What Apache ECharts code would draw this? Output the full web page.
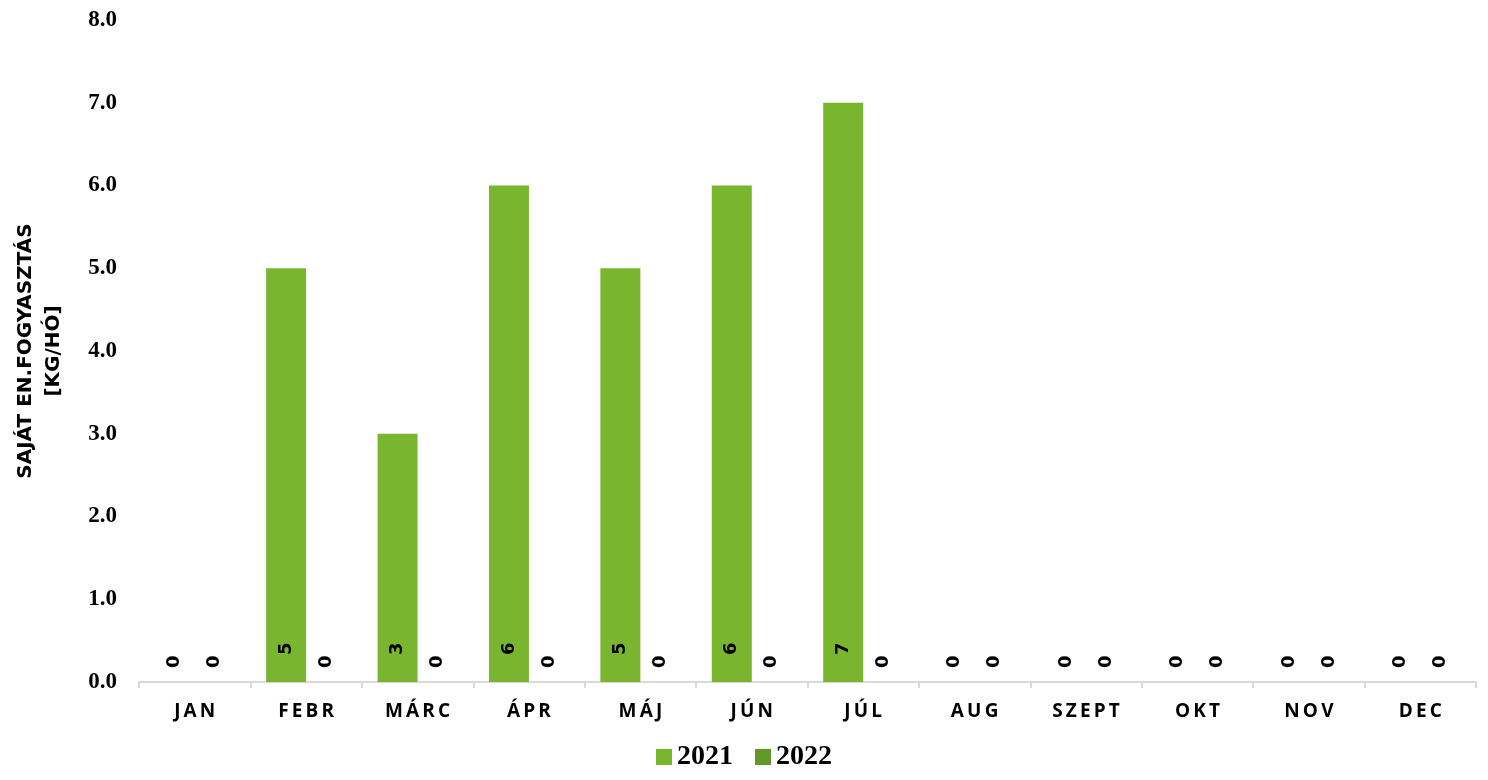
<!DOCTYPE html>
<html>
<head>
<meta charset="utf-8">
<script src="https://cdn.jsdelivr.net/npm/echarts@6/dist/echarts.min.js"></script>
<style>html,body{margin:0;padding:0;background:#fff}#c{width:1488px;height:780px}</style>
</head>
<body>
<div id="c"></div>
<script>
const categories = ['JAN','FEBR','MÁRC','ÁPR','MÁJ','JÚN','JÚL','AUG','SZEPT','OKT','NOV','DEC'];
const values2021 = [0,5,3,6,5,6,7,0,0,0,0,0];
const values2022 = [0,0,0,0,0,0,0,0,0,0,0,0];
const seriesNames = ['2021','2022'];
const yAxisTitle = 'SAJÁT EN.FOGYASZTÁS\n[KG/HÓ]';

const labelBase = {
  show: true, position: 'insideBottom', rotate: 90, align: 'left', verticalAlign: 'middle',
  color: '#000', fontFamily: 'DejaVu Sans', fontWeight: 'bold', fontSize: 18
};
function buildData(vals){
  return vals.map(v => v === 0
    ? {value: v, label: Object.assign({}, labelBase, {distance: 14})}
    : {value: v, label: Object.assign({}, labelBase, {distance: 27})});
}
const chart = echarts.init(document.getElementById('c'));
chart.setOption({
  animation: false,
  grid: {left: 139, right: 12, top: 20, bottom: 98, outerBoundsMode: 'none', containLabel: false},
  legend: {
    bottom: 4, left: 'center', itemWidth: 16, itemHeight: 16, itemGap: 22, icon: 'rect',
    textStyle: {fontFamily: 'Liberation Serif', fontWeight: 'bold', fontSize: 28, color: '#000'},
    data: seriesNames
  },
  xAxis: {
    type: 'category', data: categories,
    axisLine: {lineStyle: {color: '#d9d9d9', width: 2}},
    axisTick: {show: true, length: 6, lineStyle: {color: '#d9d9d9', width: 2}},
    axisLabel: {
      margin: 20, color: '#000', fontFamily: 'Open Sans', fontWeight: 'bold', fontSize: 19,
      formatter: v => v.split('').join('\u2009')
    }
  },
  yAxis: {
    type: 'value', min: 0, max: 8, interval: 1,
    name: yAxisTitle, nameLocation: 'middle', nameRotate: 90, nameGap: 71,
    nameTextStyle: {fontFamily: 'DejaVu Sans', fontWeight: 'bold', fontSize: 20, color: '#000', lineHeight: 28},
    axisLine: {show: false}, axisTick: {show: false}, splitLine: {show: false},
    axisLabel: {
      margin: 22, color: '#000', fontFamily: 'Liberation Serif', fontWeight: 'bold', fontSize: 23,
      formatter: v => v.toFixed(1)
    }
  },
  series: [
    {name: seriesNames[0], type: 'bar', barWidth: 40, barGap: '0%', itemStyle: {color: '#7ab52f'}, data: buildData(values2021)},
    {name: seriesNames[1], type: 'bar', barWidth: 40, barGap: '0%', itemStyle: {color: '#62982a'}, data: buildData(values2022)}
  ]
});
</script>
</body>
</html>
